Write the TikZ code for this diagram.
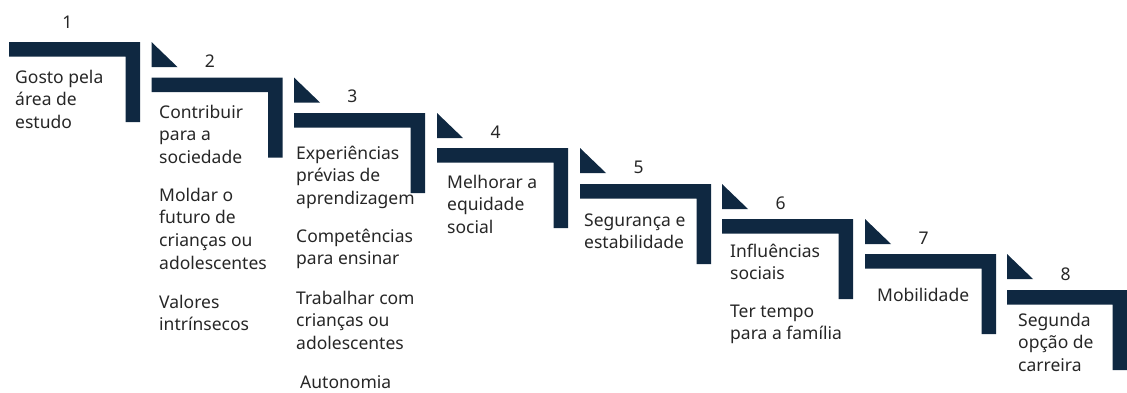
\documentclass[tikz,border=0pt]{standalone}
\usepackage{fontspec}
\setmainfont{Noto Sans}
\definecolor{navy}{RGB}{15,40,65}
\begin{document}
\begin{tikzpicture}[x=1pt,y=-1pt,
  txt/.style={anchor=base west,inner sep=0pt,align=left,font=\fontsize{17.5}{22.8}\selectfont,text=black!85},
  num/.style={anchor=base,inner sep=0pt,font=\fontsize{17.5}{22.8}\selectfont,text=black!85},
  barfill/.style={fill=navy}]
\useasboundingbox (0,0) rectangle (1127,392);
% steps: left L, top T, right R
\foreach \i/\L/\T/\R in {1/9/42/140, 2/151.5/77.5/282.5, 3/294/113/425, 4/437/148/568, 5/580/184/711, 6/722/219/853, 7/865/254/996, 8/1007/290/1127}{
  \fill[barfill] (\L,\T) -- (\R,\T) -- (\R,\T+80) -- (\R-14.5,\T+80) -- (\R-14.5,\T+14.5) -- (\L,\T+14.5) -- cycle;
}
\foreach \L/\T in {151.5/42, 294/77.5, 437/113, 580/148, 722/184, 865/219, 1007/254}{
  \fill[barfill] (\L,\T) -- (\L,\T+25) -- (\L+26,\T+25) -- cycle;
}
% numbers
\node[num] (n1) at (67.5,28) {1};
\node[num] (n2) at (210,67) {2};
\node[num] (n3) at (352.5,102.5) {3};
\node[num] (n4) at (495.5,138) {4};
\node[num] (n5) at (638.5,173) {5};
\node[num] (n6) at (780.5,209) {6};
\node[num] (n7) at (923.5,244) {7};
\node[num] (n8) at (1065.5,280) {8};
% texts (anchor = baseline of last line)
\node[txt] (t1) at (15,128.6) {Gosto pela\\área de\\estudo};
\node[txt] (t2a) at (159,163.6) {Contribuir\\para a\\sociedade};
\node[txt] (t2b) at (159,269.4) {Moldar o\\futuro de\\crianças ou\\adolescentes};
\node[txt] (t2c) at (159,330.8) {Valores\\intrínsecos};
\node[txt] (t3a) at (296,204.6) {Experiências\\prévias de\\aprendizagem};
\node[txt] (t3b) at (296,264.8) {Competências\\para ensinar};
\node[txt] (t3c) at (296,349.6) {Trabalhar com\\crianças ou\\adolescentes};
\node[txt] (t3d) at (300,388) {Autonomia};
\node[txt] (t4) at (447,233.6) {Melhorar a\\equidade\\social};
\node[txt] (t5) at (584,248.8) {Segurança e\\estabilidade};
\node[txt] (t6a) at (730,279.8) {Influências\\sociais};
\node[txt] (t6b) at (730,339.8) {Ter tempo\\para a família};
\node[txt] (t7) at (877,301) {Mobilidade};
\node[txt] (t8) at (1018,371.6) {Segunda\\opção de\\carreira};
\end{tikzpicture}
\end{document}
